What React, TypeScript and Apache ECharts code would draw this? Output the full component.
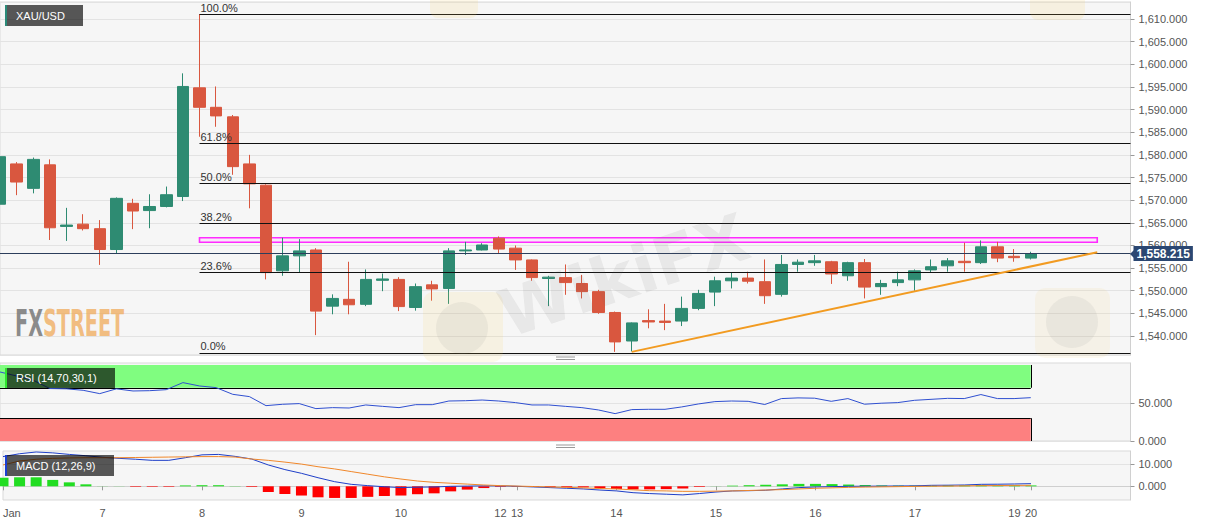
import React, { useEffect, useRef } from 'react';
import * as echarts from 'echarts';

const FONT = 'Arial, "Liberation Sans", Helvetica, sans-serif';

// 4-hour sessions per day label (last day includes empty future slots)
const DAYS = ['Jan', '7', '8', '9', '10', '12', '13', '14', '15', '16', '17', '19', '20'];
const SLOTS_PER_DAY = [6, 6, 6, 6, 6, 1, 6, 6, 6, 6, 6, 1, 7];

const OPEN = [1569.1, 1578.0, 1572.6, 1577.8, 1564.2, 1564.7, 1563.7, 1559.1, 1569.3, 1567.7,
  1568.6, 1570.8, 1594.8, 1590.5, 1588.4, 1578.0, 1573.3, 1554.4, 1557.7, 1559.0,
  1546.6, 1548.1, 1547.0, 1552.3, 1552.5, 1546.3, 1551.3, 1550.5, 1558.8, 1559.0,
  1561.6, 1559.4, 1556.8, 1552.7, 1552.9, 1551.6, 1549.8, 1545.2, 1538.9, 1543.4,
  1543.3, 1543.3, 1546.1, 1549.7, 1552.2, 1552.8, 1552.0, 1549.2, 1555.8, 1556.2,
  1556.4, 1553.3, 1556.2, 1550.9, 1551.8, 1552.4, 1554.6, 1555.5, 1556.5, 1556.2,
  1559.7, 1557.6, 1557.2];
const CLOSE = [1579.6, 1574.0, 1579.0, 1563.9, 1564.5, 1563.7, 1559.1, 1570.4, 1567.6, 1568.6,
  1571.2, 1595.1, 1590.5, 1588.6, 1577.4, 1573.6, 1554.0, 1557.7, 1558.8, 1545.5,
  1548.3, 1546.9, 1552.5, 1552.6, 1546.5, 1550.9, 1550.4, 1558.8, 1559.0, 1560.1,
  1559.2, 1556.8, 1552.9, 1553.0, 1551.8, 1549.8, 1545.2, 1538.7, 1542.9, 1543.1,
  1543.0, 1546.1, 1549.4, 1552.2, 1552.8, 1552.1, 1548.9, 1555.8, 1556.3, 1556.6,
  1553.7, 1556.2, 1550.8, 1551.6, 1552.4, 1554.4, 1555.3, 1556.6, 1556.2, 1559.7,
  1557.2, 1557.3, 1558.215];
const LOW = [1567.1, 1571.1, 1571.5, 1561.2, 1561.0, 1563.3, 1555.7, 1558.3, 1563.6, 1563.8,
  1568.4, 1569.8, 1584.0, 1586.2, 1575.6, 1568.2, 1552.5, 1553.3, 1554.0, 1540.2,
  1544.8, 1544.8, 1546.6, 1549.9, 1545.5, 1545.6, 1547.8, 1547.1, 1557.9, 1558.9,
  1558.1, 1554.6, 1552.2, 1546.6, 1549.1, 1548.3, 1544.9, 1536.5, 1536.6, 1541.7,
  1541.3, 1542.2, 1545.7, 1546.6, 1550.5, 1551.6, 1547.1, 1548.7, 1554.2, 1555.5,
  1551.5, 1552.2, 1548.3, 1549.1, 1551.0, 1550.0, 1554.0, 1554.2, 1554.2, 1555.9,
  1556.3, 1556.4, 1556.9];
const HIGH = [1580.5, 1578.4, 1579.4, 1579.0, 1568.3, 1566.9, 1565.6, 1570.6, 1570.3, 1571.3,
  1573.0, 1598.0, 1611.1, 1595.1, 1588.8, 1580.0, 1573.5, 1561.7, 1561.4, 1559.4,
  1549.2, 1556.4, 1554.7, 1553.8, 1553.0, 1551.6, 1552.2, 1559.4, 1560.8, 1560.5,
  1562.0, 1560.0, 1556.9, 1553.3, 1555.8, 1553.5, 1550.2, 1545.4, 1543.0, 1545.9,
  1547.1, 1548.7, 1550.2, 1553.1, 1554.0, 1554.2, 1556.9, 1557.9, 1556.9, 1557.9,
  1556.6, 1556.4, 1557.0, 1552.4, 1554.2, 1554.7, 1556.9, 1557.2, 1560.6, 1561.1,
  1560.8, 1559.2, 1558.6];

const RSI = [90.8, 85.5, 79.9, 69.0, 68.6, 66.7, 62.3, 68.6, 65.8, 66.2,
  67.5, 76.8, 72.4, 70.2, 61.4, 58.4, 46.5, 48.3, 49.2, 42.6,
  43.9, 43.4, 47.4, 45.6, 43.9, 47.8, 47.8, 52.6, 53.0, 53.9,
  52.6, 50.5, 47.4, 47.4, 45.6, 43.9, 40.8, 36.0, 41.3, 41.7,
  41.7, 44.8, 48.7, 51.8, 52.6, 52.2, 48.0, 55.8, 56.7, 56.3,
  52.2, 55.8, 48.4, 49.7, 50.5, 53.5, 54.8, 56.1, 55.8, 61.1,
  55.8, 55.8, 57.0];

const MACD = [13.5, 14.8, 15.6, 15.2, 14.5, 13.9, 13.2, 12.7, 12.3, 11.8,
  11.8, 13.0, 14.3, 14.5, 13.6, 12.4, 9.7, 7.6, 5.9, 3.9,
  2.1, 0.9, 0.3, -0.2, -0.6, -0.4, -0.3, 0.0, 0.1, 0.2,
  0.2, 0.0, -0.3, -0.6, -0.9, -1.2, -1.7, -2.1, -2.9, -3.3,
  -3.6, -3.9, -3.3, -2.6, -2.1, -2.0, -1.8, -1.2, -0.6, -0.3,
  -0.15, 0.0, 0.05, 0.1, 0.15, 0.2, 0.45, 0.5, 0.6, 0.9,
  0.95, 1.05, 1.2];
const SIGNAL = [9.7, 11.5, 12.3, 12.7, 12.9, 13.0, 13.0, 13.0, 13.1, 13.2,
  13.3, 13.4, 13.5, 13.5, 13.3, 12.4, 11.8, 11.0, 10.1, 8.9,
  7.9, 6.7, 5.5, 4.3, 3.3, 2.4, 1.8, 1.4, 1.0, 0.6,
  0.3, 0.1, -0.1, -0.3, -0.5, -0.7, -1.0, -1.2, -1.6, -2.0,
  -2.1, -2.3, -2.3, -2.2, -2.1, -1.9, -1.7, -1.5, -1.2, -0.9,
  -0.7, -0.5, -0.35, -0.25, -0.15, -0.05, 0.05, 0.1, 0.2, 0.3,
  0.35, 0.4, 0.45];
const HIST = [3.9, 4.1, 4.1, 2.9, 1.8, 0.9, 0.05, 0.05, -0.25, -0.25,
  -0.25, 0.4, 0.5, 0.5, 0.1, -0.3, -2.6, -3.5, -4.2, -5.0,
  -5.3, -5.3, -4.8, -4.4, -4.2, -3.6, -3.2, -2.3, -1.5, -0.8,
  -0.3, -0.3, -0.3, -0.4, -0.4, -0.5, -0.8, -1.2, -1.4, -1.4,
  -1.3, -1.0, -0.3, 0.05, 0.3, 0.5, 0.7, 0.9, 1.1, 1.1,
  1.0, 0.8, 0.6, 0.4, 0.3, 0.3, 0.3, 0.4, 0.4, 0.5,
  0.5, 0.5, 0.4];

const FIB_NAMES = ['100.0%', '61.8%', '50.0%', '38.2%', '23.6%', '0.0%'];
const FIB_PRICES = [1611.1, 1582.5, 1573.7, 1564.9, 1554.0, 1536.3];
const FIB_FROM = 12;
const ZONE_PRICES = [1561.7, 1560.7];
const ZONE_FROM = 12;
const ZONE_TO = 66;
const TREND_IDX = [38, 66];
const TREND_PRICES = [1536.5, 1558.5];
const LAST_PRICE = 1558.215;
const LAST_LABEL = '1,558.215';
const RSI_BANDS = [[70, 100], [0, 30]];

const CATS = DAYS.flatMap((d, k) => Array.from({ length: SLOTS_PER_DAY[k] }, (_, j) => `${d}|${j}`));
const LAST_IDX = OPEN.length - 1;

const UP = '#2e8b72';
const DOWN = '#d9573f';
const PLOT_W = 1130.5;

const fmt3 = (v: number) => v.toLocaleString('en-US', { minimumFractionDigits: 3, maximumFractionDigits: 3 });

export default function App() {
  const ref = useRef<HTMLDivElement>(null);
  useEffect(() => {
    document.body.style.margin = '0';
    if (!ref.current) return;
    const chart = echarts.init(ref.current, undefined, { renderer: 'svg' });

    const isDayStart = (_i: number, v: string) => String(v).endsWith('|0');
    const gridBase = { left: 0, width: PLOT_W, show: true, backgroundColor: '#f6f6f6', borderColor: '#d9d9d9', borderWidth: 1 };

    const fibLines = FIB_PRICES.map((p, k) => [
      { name: FIB_NAMES[k], coord: [CATS[FIB_FROM], p] },
      { coord: [CATS[CATS.length - 1], p] },
    ]);

    const option: any = {
      animation: false,
      textStyle: { fontFamily: FONT },
      grid: [
        { ...gridBase, top: 2, height: 353 },
        { ...gridBase, top: 363, height: 78 },
        { ...gridBase, top: 451, height: 49 },
      ],
      xAxis: [0, 1, 2].map((g) => ({
        type: 'category',
        gridIndex: g,
        data: CATS,
        boundaryGap: false,
        axisLine: { show: g === 2, lineStyle: { color: '#cfcfcf' } },
        axisTick: g === 2
          ? { show: true, interval: isDayStart, length: 4, lineStyle: { color: '#999' } }
          : { show: false },
        axisLabel: g === 2
          ? {
            show: true, interval: isDayStart, color: '#555', fontSize: 11, margin: 7,
            alignMinLabel: 'left',
            formatter: (v: string) => String(v).split('|')[0],
          }
          : { show: false },
        splitLine: { show: false },
      })),
      yAxis: [
        {
          type: 'value', gridIndex: 0, position: 'right',
          min: 1535.81, max: 1613.75, splitNumber: 15, minInterval: 5, maxInterval: 5,
          axisLine: { show: true, lineStyle: { color: '#d0d0d0' } },
          axisTick: { show: true, length: 4, lineStyle: { color: '#999' } },
          axisLabel: {
            color: '#555', fontSize: 11, margin: 8, showMinLabel: false, showMaxLabel: false,
            formatter: (v: number) => (Math.abs(v - Math.round(v / 5) * 5) < 1e-6 ? fmt3(v) : ''),
          },
          splitLine: { lineStyle: { color: '#e3e3e3' } },
        },
        {
          type: 'value', gridIndex: 1, position: 'right',
          min: 0, max: 102.6, minInterval: 50, maxInterval: 50,
          axisLine: { show: true, lineStyle: { color: '#d0d0d0' } },
          axisTick: { show: true, length: 4, lineStyle: { color: '#999' }, customValues: [0, 50] },
          axisLabel: {
            color: '#555', fontSize: 11, margin: 8, customValues: [0, 50],
            formatter: (v: number) => (v === 0 || v === 50 ? fmt3(v) : ''),
          },
          splitLine: { lineStyle: { color: '#e3e3e3' } },
        },
        {
          type: 'value', gridIndex: 2, position: 'right',
          min: -6.23, max: 16.05, minInterval: 10, maxInterval: 10,
          axisLine: { show: true, lineStyle: { color: '#d0d0d0' } },
          axisTick: { show: true, length: 4, lineStyle: { color: '#999' }, customValues: [0, 10] },
          axisLabel: {
            color: '#555', fontSize: 11, margin: 8, customValues: [0, 10],
            formatter: (v: number) => (v === 0 || v === 10 ? fmt3(v) : ''),
          },
          splitLine: { lineStyle: { color: '#e3e3e3' } },
        },
      ],
      series: [
        {
          type: 'candlestick',
          xAxisIndex: 0, yAxisIndex: 0,
          data: OPEN.map((o, i) => [o, CLOSE[i], LOW[i], HIGH[i]]),
          barWidth: 12,
          clip: true,
          itemStyle: { color: UP, color0: DOWN, borderColor: UP, borderColor0: DOWN, borderWidth: 1 },
          markArea: {
            silent: true,
            itemStyle: { color: 'rgba(255,190,255,0.25)', borderColor: '#ff2bff', borderWidth: 1.6 },
            data: [[
              { coord: [CATS[ZONE_FROM], ZONE_PRICES[0]] },
              { coord: [CATS[ZONE_TO], ZONE_PRICES[1]] },
            ]],
          },
          markLine: {
            silent: true,
            symbol: ['none', 'none'],
            data: [
              ...fibLines.map((seg) => seg.map((pt, j) => (j === 0 ? {
                ...pt,
                lineStyle: { color: '#111', width: 1, type: 'solid' },
                label: {
                  show: true, position: 'insideStartTop', distance: [1, 1],
                  formatter: (p: any) => p.name, color: '#333', fontSize: 11,
                },
              } : pt))),
              {
                yAxis: LAST_PRICE,
                lineStyle: { color: '#2c3e5c', width: 1, type: 'solid' },
                label: {
                  show: true, position: 'end', distance: 3, formatter: LAST_LABEL,
                  backgroundColor: '#2b4772', color: '#fff', fontWeight: 'bold', fontSize: 12,
                  padding: [2, 3, 1, 3],
                },
              },
              [
                {
                  coord: [CATS[TREND_IDX[0]], TREND_PRICES[0]],
                  lineStyle: { color: '#f29b21', width: 2, type: 'solid' },
                  label: { show: false },
                },
                { coord: [CATS[TREND_IDX[1]], TREND_PRICES[1]] },
              ],
            ],
          },
          z: 3,
        },
        {
          type: 'line',
          xAxisIndex: 1, yAxisIndex: 1,
          data: [],
          z: 1,
          markArea: {
            silent: true,
            data: RSI_BANDS.map((b, k) => [
              { coord: [CATS[0], b[1]], itemStyle: { color: k === 0 ? '#80fd80' : '#fd8080' } },
              { coord: [CATS[LAST_IDX], b[0]] },
            ]),
          },
          markLine: {
            silent: true,
            symbol: ['none', 'none'],
            lineStyle: { color: '#000', width: 1, type: 'solid' },
            label: { show: false },
            data: [
              [{ coord: [CATS[0], RSI_BANDS[0][0]] }, { coord: [CATS[LAST_IDX], RSI_BANDS[0][0]] }],
              [{ coord: [CATS[LAST_IDX], RSI_BANDS[0][0]] }, { coord: [CATS[LAST_IDX], RSI_BANDS[0][1]] }],
              [{ coord: [CATS[0], RSI_BANDS[1][1]] }, { coord: [CATS[LAST_IDX], RSI_BANDS[1][1]] }],
              [{ coord: [CATS[LAST_IDX], RSI_BANDS[1][0]] }, { coord: [CATS[LAST_IDX], RSI_BANDS[1][1]] }],
            ],
          },
        },
        {
          type: 'line',
          xAxisIndex: 1, yAxisIndex: 1,
          data: RSI,
          showSymbol: false,
          lineStyle: { color: '#2f4fd0', width: 1 },
          z: 5,
        },
        {
          type: 'bar',
          xAxisIndex: 2, yAxisIndex: 2,
          data: HIST,
          barWidth: 11,
          itemStyle: { color: (p: any) => (p.value >= 0 ? '#22dd22' : '#ff0000') },
          z: 2,
        },
        {
          type: 'line',
          xAxisIndex: 2, yAxisIndex: 2,
          data: MACD,
          showSymbol: false,
          lineStyle: { color: '#1f3fc8', width: 1 },
          z: 3,
        },
        {
          type: 'line',
          xAxisIndex: 2, yAxisIndex: 2,
          data: SIGNAL,
          showSymbol: false,
          lineStyle: { color: '#f0872a', width: 1 },
          z: 3,
        },
      ],
      graphic: [
        // watermarks
        { type: 'rect', z: 50, silent: true, shape: { x: 423, y: 292, width: 80, height: 70, r: 10 }, style: { fill: 'rgba(245,205,90,0.13)' } },
        { type: 'circle', z: 50, silent: true, shape: { cx: 462, cy: 328, r: 26 }, style: { fill: 'rgba(120,120,120,0.09)' } },
        { type: 'rect', z: 50, silent: true, shape: { x: 1035, y: 288, width: 75, height: 70, r: 10 }, style: { fill: 'rgba(245,205,90,0.09)' } },
        { type: 'circle', z: 50, silent: true, shape: { cx: 1072, cy: 322, r: 26 }, style: { fill: 'rgba(120,120,120,0.09)' } },
        { type: 'rect', z: 50, silent: true, shape: { x: 430, y: -30, width: 48, height: 48, r: 8 }, style: { fill: 'rgba(245,205,90,0.14)' } },
        { type: 'rect', z: 50, silent: true, shape: { x: 1030, y: -30, width: 55, height: 50, r: 8 }, style: { fill: 'rgba(245,205,90,0.14)' } },
        {
          type: 'text', z: 50, silent: true, x: 512, y: 348, rotation: 0.32,
          style: { text: 'WikiFX', fill: 'rgba(110,110,110,0.10)', fontSize: 66, fontWeight: 'bold', fontFamily: 'DejaVu Sans', verticalAlign: 'bottom' },
        },
        // FXSTREET logo
        {
          type: 'text', z: 60, silent: true, x: 15, y: 342, scaleX: 0.52,
          style: {
            text: '{a|FX}{b|STREET}', verticalAlign: 'bottom',
            rich: {
              a: { fill: 'rgba(120,120,120,0.85)', fontSize: 37, fontWeight: 'bold', fontFamily: 'DejaVu Sans' },
              b: { fill: 'rgba(240,170,90,0.75)', fontSize: 37, fontWeight: 'bold', fontFamily: 'DejaVu Sans' },
            },
          },
        },
        // pane handles
        { type: 'line', z: 60, silent: true, shape: { x1: 556, y1: 357, x2: 575, y2: 357 }, style: { stroke: '#999', lineWidth: 1 } },
        { type: 'line', z: 60, silent: true, shape: { x1: 556, y1: 359.5, x2: 575, y2: 359.5 }, style: { stroke: '#999', lineWidth: 1 } },
        { type: 'line', z: 60, silent: true, shape: { x1: 556, y1: 445, x2: 575, y2: 445 }, style: { stroke: '#999', lineWidth: 1 } },
        { type: 'line', z: 60, silent: true, shape: { x1: 556, y1: 447.5, x2: 575, y2: 447.5 }, style: { stroke: '#999', lineWidth: 1 } },
        // price arrow
        { type: 'polygon', z: 60, silent: true, shape: { points: [[1130, 254], [1134, 250], [1134, 258]] }, style: { fill: '#2b4772' } },
        // legends
        { type: 'rect', z: 100, shape: { x: 5, y: 5, width: 78, height: 21 }, style: { fill: 'rgba(0,0,0,0.65)' } },
        { type: 'rect', z: 101, shape: { x: 5, y: 5, width: 2, height: 21 }, style: { fill: '#2a8a78' } },
        { type: 'text', z: 102, x: 16, y: 15.5, style: { text: 'XAU/USD', fill: '#fff', fontSize: 11, fontFamily: FONT, verticalAlign: 'middle' } },
        { type: 'rect', z: 100, shape: { x: 5, y: 368, width: 110, height: 20 }, style: { fill: 'rgba(0,0,0,0.65)' } },
        { type: 'rect', z: 101, shape: { x: 5, y: 368, width: 2, height: 20 }, style: { fill: '#2ee52e' } },
        { type: 'text', z: 102, x: 16, y: 378, style: { text: 'RSI (14,70,30,1)', fill: '#fff', fontSize: 11, fontFamily: FONT, verticalAlign: 'middle' } },
        { type: 'rect', z: 100, shape: { x: 5, y: 455, width: 109, height: 21 }, style: { fill: 'rgba(0,0,0,0.65)' } },
        { type: 'rect', z: 101, shape: { x: 5, y: 455, width: 2, height: 21 }, style: { fill: '#1c3fd0' } },
        { type: 'text', z: 102, x: 16, y: 465.5, style: { text: 'MACD (12,26,9)', fill: '#fff', fontSize: 11, fontFamily: FONT, verticalAlign: 'middle' } },
      ],
    };

    chart.setOption(option);
    return () => chart.dispose();
  }, []);

  return <div ref={ref} style={{ width: 1207, height: 526, background: '#fff' }} />;
}
